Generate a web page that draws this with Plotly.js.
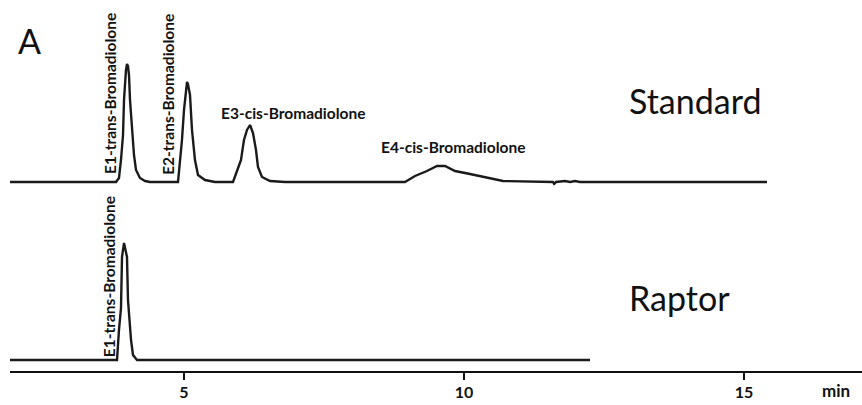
<!DOCTYPE html>
<html>
<head>
<meta charset="utf-8">
<script src="https://cdn.plot.ly/plotly-3.0.1.min.js"></script>
<style>html,body{margin:0;padding:0;background:#fff;}#chart{width:862px;height:405px;}</style>
</head>
<body>
<div id="chart"></div>
<script>
// Standard chromatogram (time in min, intensity in arbitrary units)
var stdTime = [1.893, 3.786, 3.839, 3.875, 3.911, 3.929, 3.964, 3.982, 4.000, 4.018, 4.036, 4.071, 4.107, 4.143, 4.214, 4.304, 4.393,
  4.893, 4.964, 5.000, 5.036, 5.054, 5.071, 5.107, 5.143, 5.196, 5.250, 5.375, 5.554,
  5.875, 6.018, 6.071, 6.125, 6.179, 6.232, 6.286, 6.321, 6.393, 6.536, 6.804,
  8.946, 9.125, 9.339, 9.518, 9.661, 9.839, 10.107, 10.339, 10.696,
  11.589, 11.610, 11.643, 11.804, 11.893, 11.982, 12.071, 15.411];
var stdInt = [0, 0, 4, 22, 47, 82, 112, 118, 116, 107, 82, 52, 27, 12, 4, 1, 0,
  0, 42, 72, 95, 100, 98, 87, 52, 22, 7, 2, 0,
  0, 22, 42, 52, 57, 49, 32, 15, 5, 1, 0,
  0, 6, 11, 16, 16, 11, 8, 5, 1,
  0, -2, 0, 1, 0, 1, 0, 0];

// Raptor sample chromatogram
var rapTime = [1.893, 3.804, 3.839, 3.875, 3.893, 3.929, 3.982, 4.000, 4.054, 4.089, 4.161, 12.250];
var rapInt = [0, 0, 30, 52, 103, 117, 103, 60, 20, 5, 0, 0];

var tickVals = [5, 10, 15];
var peakLabels = ["E1-trans-Bromadiolone", "E2-trans-Bromadiolone", "E3-cis-Bromadiolone", "E4-cis-Bromadiolone"];
var peakLabelTimes = [3.679, 4.714, 6.94, 9.81];
var rapLabelTime = 3.661;

var lineStyle = {color: '#1a1a1a', width: 2.4};
var traces = [
  {x: stdTime, y: stdInt, type: 'scatter', mode: 'lines', line: lineStyle, xaxis: 'x', yaxis: 'y2', hoverinfo: 'skip'},
  {x: rapTime, y: rapInt, type: 'scatter', mode: 'lines', line: lineStyle, xaxis: 'x', yaxis: 'y', hoverinfo: 'skip'}
];

var fam = 'Lato, "Open Sans", sans-serif';
var lblFont = {family: fam, size: 15.5, color: '#111', weight: 'bold'};
var annotations = [
  {text: 'A', xref: 'paper', yref: 'paper', x: 0.023, y: 0.892, showarrow: false, font: {family: fam, size: 34, color: '#111'}, xanchor: 'center', yanchor: 'middle'},
  {text: 'Standard', xref: 'paper', yref: 'paper', x: 0.724, y: 0.730, showarrow: false, font: {family: fam, size: 34, color: '#111'}, xanchor: 'left', yanchor: 'middle'},
  {text: 'Raptor', xref: 'paper', yref: 'paper', x: 0.724, y: 0.199, showarrow: false, font: {family: fam, size: 34, color: '#111'}, xanchor: 'left', yanchor: 'middle'},
  {text: peakLabels[0], xref: 'x', yref: 'paper', x: peakLabelTimes[0], y: 0.747, textangle: -90, showarrow: false, font: lblFont, xanchor: 'center', yanchor: 'middle'},
  {text: peakLabels[1], xref: 'x', yref: 'paper', x: peakLabelTimes[1], y: 0.747, textangle: -90, showarrow: false, font: lblFont, xanchor: 'center', yanchor: 'middle'},
  {text: peakLabels[2], xref: 'x', yref: 'paper', x: peakLabelTimes[2], y: 0.695, showarrow: false, font: lblFont, xanchor: 'center', yanchor: 'middle'},
  {text: peakLabels[3], xref: 'x', yref: 'paper', x: peakLabelTimes[3], y: 0.604, showarrow: false, font: lblFont, xanchor: 'center', yanchor: 'middle'},
  {text: peakLabels[0], xref: 'x', yref: 'paper', x: rapLabelTime, y: 0.253, textangle: -90, showarrow: false, font: lblFont, xanchor: 'center', yanchor: 'middle'},
  {text: 'min', xref: 'paper', yref: 'paper', x: 0.969, y: -0.052, showarrow: false, font: {family: fam, size: 17, color: '#111', weight: 'bold'}, xanchor: 'center', yanchor: 'middle'}
];

var layout = {
  width: 862, height: 405,
  margin: {l: 10, r: 0, t: 0, b: 34, pad: 0},
  paper_bgcolor: '#fff', plot_bgcolor: '#fff',
  showlegend: false,
  xaxis: {range: [1.893, 17.107], showline: true, linecolor: '#111', linewidth: 2, ticks: 'outside', ticklen: 7, tickwidth: 2, tickcolor: '#111',
    tickvals: tickVals, ticktext: tickVals.map(String), tickfont: {family: fam, size: 16, color: '#111', weight: 'bold'}, ticklabelstandoff: -1,
    showgrid: false, zeroline: false, anchor: 'y', automargin: false},
  yaxis: {domain: [0, 0.5], range: [-11, 174.5], visible: false, showgrid: false, zeroline: false},
  yaxis2: {domain: [0.5, 1], range: [-3.5, 182], visible: false, showgrid: false, zeroline: false},
  annotations: annotations
};

Plotly.newPlot('chart', traces, layout, {displayModeBar: false, staticPlot: true});
</script>
</body>
</html>
